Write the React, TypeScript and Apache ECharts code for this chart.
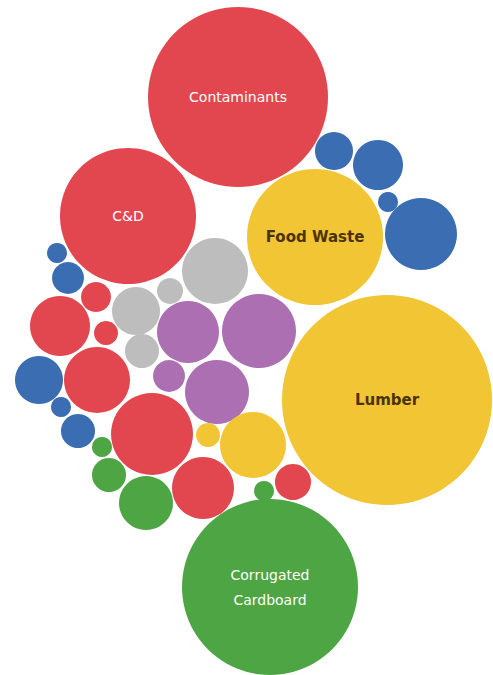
import React, { useEffect, useRef } from "react";
import * as echarts from "echarts";

// Bubble names ("" = unlabeled), material group, layout position and radius
const names = [
  "Contaminants", "C&D", "Food Waste", "", "", "", "",
  "", "", "", "", "", "",
  "", "", "",
  "", "", "", "",
  "", "", "", "", "", "",
  "", "", "", "", "", "", "",
  "Lumber", "Corrugated\nCardboard",
];
const groups = [
  "red", "red", "yellow", "blue", "blue", "blue", "blue",
  "blue", "blue", "red", "red", "red", "grey",
  "grey", "grey", "grey",
  "purple", "purple", "purple", "purple",
  "blue", "red", "blue", "blue", "green", "red",
  "green", "green", "red", "yellow", "yellow", "red", "green",
  "yellow", "green",
];
const xs = [
  238, 128, 315, 334, 378, 388, 421,
  57, 68, 96, 60, 106, 215,
  170, 136, 142,
  188, 259, 169, 217,
  39, 97, 61, 78, 102, 152,
  109, 146, 203, 208, 253, 293, 264,
  387, 270,
];
const ys = [
  97, 216, 237, 151, 165, 202, 234,
  253, 278, 297, 326, 333, 271,
  291, 311, 351,
  332, 331, 376, 392,
  380, 380, 407, 431, 447, 434,
  475, 503, 488, 435, 445, 482, 491,
  400, 587,
];
const radii = [
  90, 68, 68, 19, 25, 10, 36,
  10, 16, 15, 30, 12, 33,
  13, 24, 17,
  31, 37, 16, 32,
  24, 33, 10, 17, 10, 41,
  17, 27, 31, 12, 33, 18, 10,
  105, 88,
];

const groupColors: Record<string, string> = {
  red: "#E2474F",
  yellow: "#F1C534",
  blue: "#3A6DB1",
  green: "#4DA544",
  purple: "#AB6FB2",
  grey: "#BEBDBD",
};
const darkLabel: Record<string, boolean> = { yellow: true };

export default function App() {
  const ref = useRef<HTMLDivElement>(null);
  useEffect(() => {
    if (!ref.current) return;
    const chart = echarts.init(ref.current, null, { renderer: "svg" });
    const data = names.map((n, i) => {
      const g = groups[i];
      const dark = darkLabel[g];
      return {
        value: [xs[i], ys[i], radii[i]],
        itemStyle: { color: groupColors[g] },
        label: {
          show: n !== "",
          formatter: n,
          position: "inside",
          color: dark ? "#4A3300" : "#FFFFFF",
          fontWeight: dark ? "bold" : "normal",
          fontSize: dark ? 15 : 14,
          lineHeight: 25,
          fontFamily: "DejaVu Sans, sans-serif",
        },
      };
    });
    chart.setOption({
      animation: false,
      grid: { left: 0, right: 0, top: 0, bottom: 0 },
      xAxis: { type: "value", min: 0, max: 493, show: false },
      yAxis: { type: "value", min: 0, max: 675, inverse: true, show: false },
      series: [
        {
          type: "scatter",
          symbol: "circle",
          symbolSize: (v: number[]) => v[2] * 2,
          data,
          itemStyle: { opacity: 1 },
        },
      ],
    });
    return () => chart.dispose();
  }, []);
  return (
    <div
      ref={ref}
      style={{ position: "fixed", left: 0, top: 0, width: 493, height: 675, background: "#fff" }}
    />
  );
}
